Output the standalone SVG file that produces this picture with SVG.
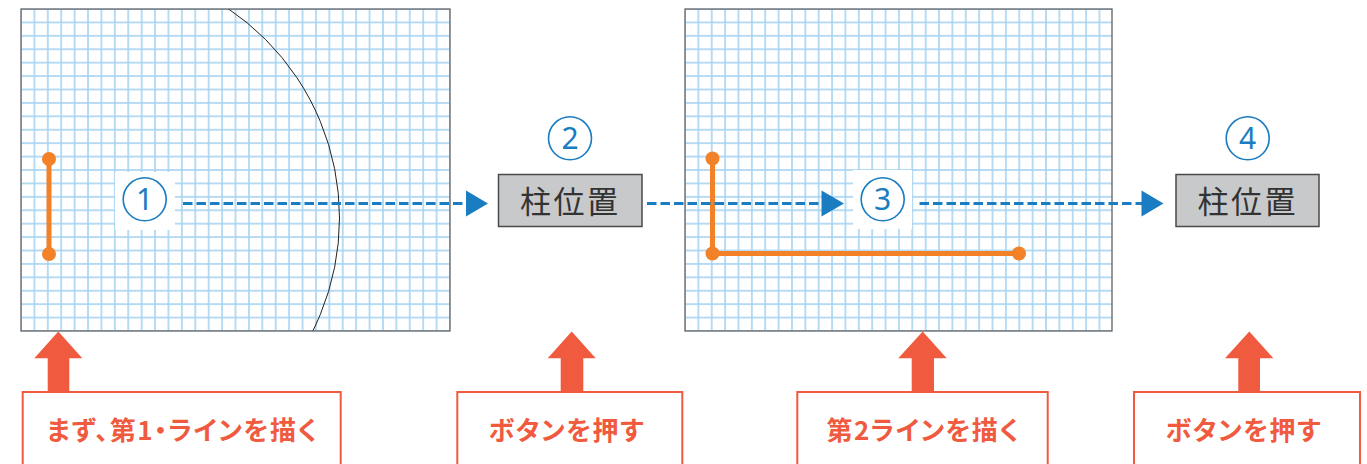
<svg xmlns="http://www.w3.org/2000/svg" width="1367" height="464" viewBox="0 0 1367 464">
<style>
.panel{stroke:#5f6368;stroke-width:1.3;}
.gl{fill:#a6d3f1;}
.orange{stroke:#f28128;stroke-width:5;fill:none;}
.odot{fill:#f28128;}
.dash{stroke:#1a7cc1;stroke-width:3;stroke-dasharray:9.5 4;fill:none;}
.head{fill:#1a7cc1;}
.circ{fill:none;stroke:#1a7cc1;stroke-width:1.6;}
.num{font-family:"Noto Sans","Open Sans",sans-serif;font-size:30px;fill:#1a7cc1;text-anchor:middle;}
.box{fill:#c8c9cb;stroke:#4a4a4a;stroke-width:1.5;}
.boxt{font-family:"Noto Sans CJK JP","Noto Sans",sans-serif;font-size:31px;fill:#333;text-anchor:middle;}
.up{fill:#f05a3e;}
.lbl{fill:#fff;stroke:#f05a3e;stroke-width:2;}
.lblt{font-family:"Noto Sans CJK JP","Noto Sans",sans-serif;font-size:26px;font-weight:bold;fill:#f05a3e;text-anchor:middle;font-feature-settings:"palt";}
</style>
<defs>
<pattern id="g1" patternUnits="userSpaceOnUse" x="21" y="9" width="13.406" height="13.417">
<rect class="gl" x="-0.8" y="0" width="1.6" height="13.417"/>
<rect class="gl" x="12.606" y="0" width="1.6" height="13.417"/>
<rect class="gl" x="0" y="-0.8" width="13.406" height="1.6"/>
<rect class="gl" x="0" y="12.617" width="13.406" height="1.6"/>
</pattern>
<pattern id="g2" patternUnits="userSpaceOnUse" x="685" y="9" width="13.37" height="13.417">
<rect class="gl" x="-0.8" y="0" width="1.6" height="13.417"/>
<rect class="gl" x="12.57" y="0" width="1.6" height="13.417"/>
<rect class="gl" x="0" y="-0.8" width="13.37" height="1.6"/>
<rect class="gl" x="0" y="12.617" width="13.37" height="1.6"/>
</pattern>
<clipPath id="c1"><rect x="21" y="9" width="429" height="322"/></clipPath>
</defs>

<g id="panel1">
<rect x="21" y="9" width="429" height="322" fill="#fff"/>
<rect x="21" y="9" width="429" height="322" fill="url(#g1)"/>
<circle cx="87" cy="218" r="252.5" fill="none" stroke="#222" stroke-width="1" clip-path="url(#c1)"/>
<rect x="21" y="9" width="429" height="322" fill="none" class="panel"/>
<line class="orange" x1="49" y1="159" x2="49" y2="254"/>
<circle class="odot" cx="49" cy="159" r="7"/>
<circle class="odot" cx="49" cy="254" r="7"/>
</g>

<g id="panel2">
<rect x="685" y="9" width="427" height="322" fill="#fff"/>
<rect x="685" y="9" width="427" height="322" fill="url(#g2)"/>
<rect x="685" y="9" width="427" height="322" fill="none" class="panel"/>
<polyline class="orange" points="712.5,158.5 712.5,253.5 1019,253.5"/>
<circle class="odot" cx="712.5" cy="158.5" r="7"/>
<circle class="odot" cx="712.5" cy="253.5" r="7"/>
<circle class="odot" cx="1019" cy="253.5" r="7"/>
</g>

<g id="connectors">
<line class="dash" x1="183" y1="203.5" x2="467" y2="203.5"/>
<polygon class="head" points="466,190.5 488,203.5 466,216.5"/>
<line class="dash" x1="647" y1="203.5" x2="823" y2="203.5"/>
<polygon class="head" points="821.5,190.5 844,203.5 821.5,216.5"/>
<line class="dash" x1="919.5" y1="203.5" x2="1143" y2="203.5"/>
<polygon class="head" points="1141.5,190.5 1163.5,203.5 1141.5,216.5"/>
<polygon class="up" points="58.3,331.5 82.3,358.3 69.3,358.3 69.3,392 47.7,392 47.7,358.3 34.3,358.3"/>
<polygon class="up" points="571.7,331.5 595.7,358.3 583.3,358.3 583.3,392 560.7,392 560.7,358.3 547.7,358.3"/>
<polygon class="up" points="922.7,331.5 946.7,358.3 934,358.3 934,392 911.7,392 911.7,358.3 898.3,358.3"/>
<polygon class="up" points="1249.3,331.5 1273.3,358.3 1260,358.3 1260,392 1238.3,392 1238.3,358.3 1225,358.3"/>
</g>

<g id="step1">
<rect x="115" y="172" width="60" height="58" fill="#fff"/>
<circle class="circ" cx="144.7" cy="199.3" r="21.5"/>
<text class="num" x="144.7" y="210">1</text>
</g>

<g id="step2">
<circle class="circ" cx="570" cy="138.3" r="21.5"/>
<text class="num" x="570" y="149">2</text>
</g>

<g id="box2">
<rect class="box" x="498.5" y="174.5" width="143.5" height="52"/>
<text class="boxt" x="569" y="212.5" textLength="98" lengthAdjust="spacing">柱位置</text>
</g>

<g id="step3">
<rect x="853" y="170" width="59" height="59" fill="#fff"/>
<circle class="circ" cx="882.7" cy="199.3" r="21.5"/>
<text class="num" x="882.7" y="210">3</text>
</g>

<g id="step4">
<circle class="circ" cx="1247.7" cy="138.3" r="21.5"/>
<text class="num" x="1247.7" y="149">4</text>
</g>

<g id="box4">
<rect class="box" x="1176" y="174.5" width="143" height="52"/>
<text class="boxt" x="1246.5" y="212.5" textLength="98" lengthAdjust="spacing">柱位置</text>
</g>

<g id="label1">
<rect class="lbl" x="22.7" y="392" width="318" height="80"/>
<text class="lblt" x="181.7" y="440" textLength="270" lengthAdjust="spacing">まず、第1・ラインを描く</text>
</g>

<g id="label2">
<rect class="lbl" x="457.3" y="392" width="225" height="80"/>
<text class="lblt" x="566" y="440" textLength="155" lengthAdjust="spacing">ボタンを押す</text>
</g>

<g id="label3">
<rect class="lbl" x="797.3" y="392" width="250.4" height="80"/>
<text class="lblt" x="922.5" y="440" textLength="192" lengthAdjust="spacing">第2ラインを描く</text>
</g>

<g id="label4">
<rect class="lbl" x="1134" y="392" width="226" height="80"/>
<text class="lblt" x="1243" y="440" textLength="155" lengthAdjust="spacing">ボタンを押す</text>
</g>
</svg>
